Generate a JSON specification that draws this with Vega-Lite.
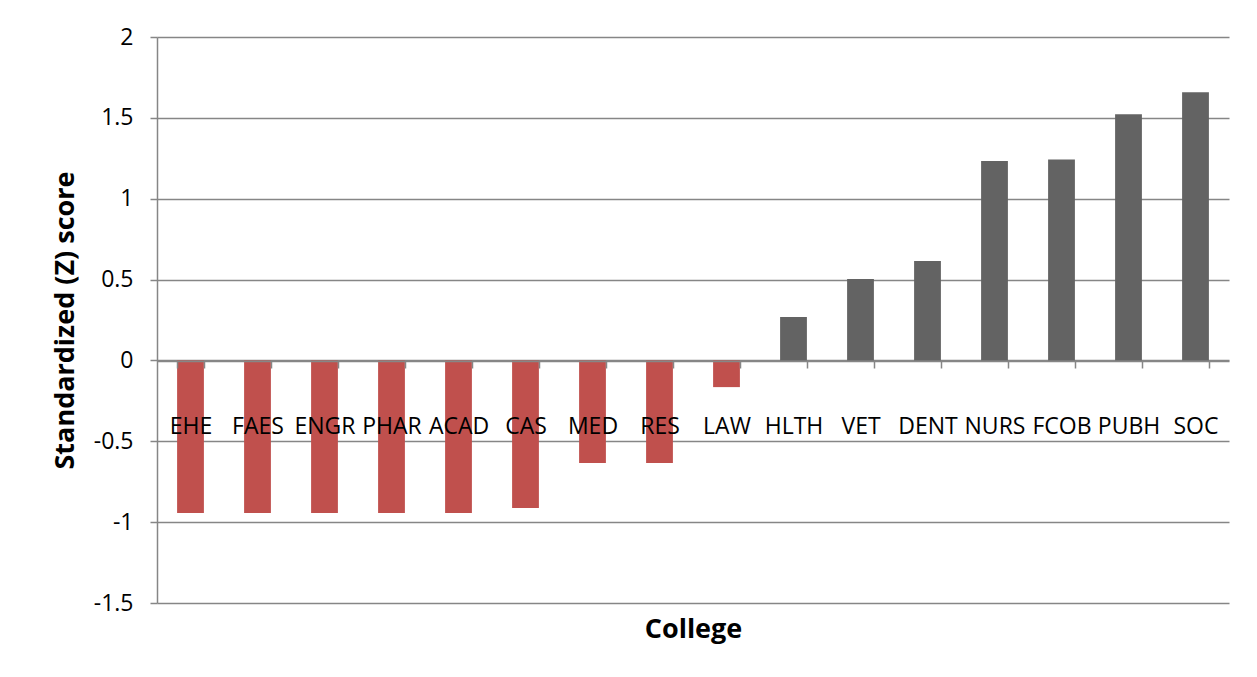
{
  "$schema": "https://vega.github.io/schema/vega-lite/v6.json",
  "autosize": "none",
  "width": 1072,
  "height": 566,
  "padding": {"left": 157, "top": 37, "right": 28, "bottom": 74},
  "background": "white",
  "config": {
    "view": {"stroke": null},
    "font": "Open Sans"
  },
  "data": {
    "values": [
      {"college": "EHE", "z": -0.943},
      {"college": "FAES", "z": -0.943},
      {"college": "ENGR", "z": -0.943},
      {"college": "PHAR", "z": -0.943},
      {"college": "ACAD", "z": -0.943},
      {"college": "CAS", "z": -0.912},
      {"college": "MED", "z": -0.634},
      {"college": "RES", "z": -0.634},
      {"college": "LAW", "z": -0.165},
      {"college": "HLTH", "z": 0.269},
      {"college": "VET", "z": 0.504},
      {"college": "DENT", "z": 0.615},
      {"college": "NURS", "z": 1.233},
      {"college": "FCOB", "z": 1.243},
      {"college": "PUBH", "z": 1.523},
      {"college": "SOC", "z": 1.658}
    ]
  },
  "mark": {"type": "bar"},
  "encoding": {
    "x": {
      "field": "college",
      "type": "nominal",
      "sort": null,
      "scale": {"paddingInner": 0.6, "paddingOuter": 0.3},
      "axis": {
        "title": "College",
        "titleFont": "Open Sans",
        "titleFontSize": 27,
        "titleFontWeight": "bold",
        "titleColor": "black",
        "titleY": 276,
        "titleBaseline": "alphabetic",
        "offset": -242,
        "labelAngle": 0,
        "labelFont": "Open Sans",
        "labelFontSize": 23,
        "labelColor": "black",
        "labelPadding": 47,
        "labelBaseline": "top",
        "labelOverlap": false,
        "tickBand": "extent",
        "tickSize": 7,
        "tickColor": "#868686",
        "tickWidth": 1.5,
        "domainColor": "#868686",
        "domainWidth": 1.5,
        "grid": false,
        "zindex": 1
      }
    },
    "y": {
      "field": "z",
      "type": "quantitative",
      "scale": {"domain": [-1.5, 2], "nice": false, "zero": false},
      "axis": {
        "title": "Standardized (Z) score",
        "titleFont": "Open Sans",
        "titleFontSize": 27,
        "titleFontWeight": "bold",
        "titleColor": "black",
        "titleX": -84,
        "titleY": 283,
        "titleAngle": -90,
        "titleBaseline": "alphabetic",
        "titleAlign": "center",
        "values": [-1.5, -1, -0.5, 0, 0.5, 1, 1.5, 2],
        "labelExpr": "replace(format(datum.value, '~g'), '\u2212', '-')",
        "labelFont": "Open Sans",
        "labelFontSize": 23,
        "labelColor": "black",
        "labelPadding": 17,
        "tickSize": 7,
        "tickColor": "#868686",
        "tickWidth": 1.5,
        "domainColor": "#868686",
        "domainWidth": 1.5,
        "grid": true,
        "gridColor": "#868686",
        "gridWidth": 1.5
      }
    },
    "color": {
      "condition": {"test": "datum.z < 0", "value": "#C0504D"},
      "value": "#636363"
    }
  }
}
